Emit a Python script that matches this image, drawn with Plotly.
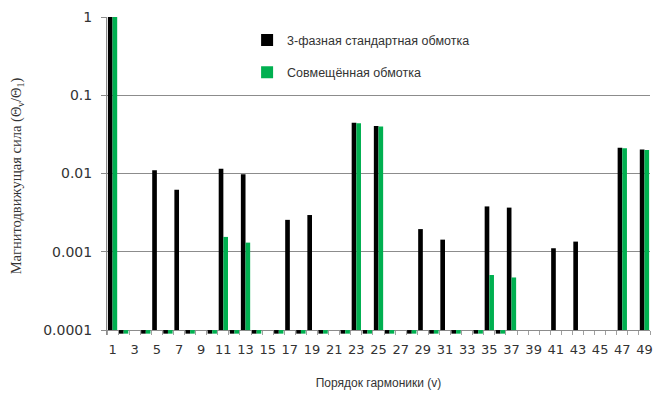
import plotly.graph_objects as go

# Harmonic orders 1..49; labels shown on the odd ones
harmonics = list(range(1, 50))
tick_harmonics = list(range(1, 50, 2))

# Relative MMF (Θν/Θ1); None = no bar, 0.00009 = residual even harmonics below the axis floor
standard_3ph = [
    1.0, 0.00009, None, 0.00009, 0.0110, 0.00009, 0.0062, 0.00009, None, 0.00009,
    0.0115, 0.00009, 0.0098, 0.00009, None, 0.00009, 0.00256, 0.00009, 0.00295, 0.00009,
    None, 0.00009, 0.0445, 0.00009, 0.0405, 0.00009, None, 0.00009, 0.00195, 0.00009,
    0.00143, 0.00009, None, 0.00009, 0.0038, 0.00009, 0.00367, None, None, None,
    0.00111, None, 0.00135, None, None, None, 0.0213, None, 0.0203,
]
combined = [
    1.0, 0.00009, None, 0.00009, None, 0.00009, None, 0.00009, None, 0.00009,
    0.00155, 0.00009, 0.00131, 0.00009, None, 0.00009, None, 0.00009, None, 0.00009,
    None, 0.00009, 0.0440, 0.00009, 0.0400, 0.00009, None, 0.00009, None, 0.00009,
    None, 0.00009, None, 0.00009, 0.000505, 0.00009, 0.00047, None, None, None,
    None, None, None, None, None, None, 0.0210, None, 0.0200,
]

series_names = ["3-фазная стандартная обмотка", "Совмещённая обмотка"]
series_colors = ["#000000", "#00B050"]

AXIS_FLOOR = 1e-4


def from_floor(values):
    # bars grow from the 0.0001 floor line (up for larger values, down for residuals)
    return [None if v is None else v - AXIS_FLOOR for v in values]


fig = go.Figure()
for i, (name, vals, col) in enumerate(zip(series_names, [standard_3ph, combined], series_colors)):
    fig.add_trace(go.Bar(
        x=harmonics, y=from_floor(vals), base=AXIS_FLOOR,
        name=name, marker=dict(color=col, line=dict(width=0)),
        legendgroup=f"g{i}",
    ))

fig.update_layout(
    width=662, height=398,
    margin=dict(l=107, r=9, t=15, b=63),
    paper_bgcolor="white", plot_bgcolor="white",
    barmode="group", bargap=0.16, bargroupgap=0,
    font=dict(family="DejaVu Sans", color="#333333"),
    legend=dict(
        x=0.258, y=0.974, xanchor="left", yanchor="top",
        traceorder="grouped", tracegroupgap=13,
        font=dict(family="Liberation Sans", size=12.5, color="#333333"),
        bgcolor="rgba(0,0,0,0)",
    ),
    showlegend=True,
)

fig.update_xaxes(
    range=[0.5, 49.5],
    tickmode="array", tickvals=tick_harmonics, ticktext=[str(h) for h in tick_harmonics],
    ticks="", showgrid=False, zeroline=False, showline=False,
    ticklabelstandoff=5,
    tickfont=dict(family="DejaVu Sans", size=13, color="#333333"),
    minor=dict(tickmode="linear", tick0=0.5, dtick=1, ticks="inside", ticklen=4,
               tickcolor="#a0a0a0", tickwidth=1, showgrid=False),
    title=dict(text="Порядок гармоники (v)", standoff=22,
               font=dict(family="Liberation Sans", size=12, color="#333333")),
)

fig.update_yaxes(
    type="log", range=[-4.063, 0],
    tickmode="array", tickvals=[1e-4, 1e-3, 1e-2, 1e-1, 1],
    ticktext=["0.0001", "0.001", "0.01", "0.1", "1"],
    showgrid=True, gridcolor="#8c8c8c", gridwidth=1,
    showline=True, linecolor="#8c8c8c", linewidth=1,
    ticks="outside", ticklen=5, tickcolor="#8c8c8c",
    ticklabelstandoff=6,
    tickfont=dict(family="DejaVu Sans", size=14, color="#333333"),
    title=dict(text="Магнитодвижущая сила (Θ<sub>ν</sub>/Θ<sub>1</sub>)", standoff=18,
               font=dict(family="Liberation Serif, Times New Roman, serif", size=14.5,
                         color="#333333")),
)

fig.write_html("out.html")
